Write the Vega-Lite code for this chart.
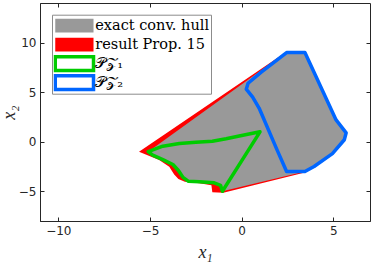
{
  "$schema": "https://vega.github.io/schema/vega-lite/v6.json",
  "width": 330,
  "height": 218,
  "autosize": {"type": "none"},
  "padding": {"left": 40, "top": 3, "right": 4, "bottom": 42},
  "background": "white",
  "config": {
    "view": {"stroke": "#262626", "strokeWidth": 1},
    "axis": {
      "grid": false,
      "domainColor": "#262626",
      "tickColor": "#262626",
      "tickSize": -4,
      "labelColor": "#262626",
      "labelFont": "DejaVu Sans",
      "labelFontSize": 12,
      "titleColor": "#262626",
      "titleFont": "Liberation Serif",
      "titleFontStyle": "italic",
      "titleFontWeight": "normal",
      "titleFontSize": 18
    }
  },
  "data": {
    "values": [
      {"series": "result Prop. 15", "i": 1, "x": -5.6, "y": -1.0},
      {"series": "result Prop. 15", "i": 2, "x": 2.5, "y": 9.15},
      {"series": "result Prop. 15", "i": 3, "x": 3.45, "y": 9.0},
      {"series": "result Prop. 15", "i": 4, "x": 5.15, "y": 2.2},
      {"series": "result Prop. 15", "i": 5, "x": 5.7, "y": 0.9},
      {"series": "result Prop. 15", "i": 6, "x": 5.6, "y": 0.2},
      {"series": "result Prop. 15", "i": 7, "x": 3.45, "y": -3.1},
      {"series": "result Prop. 15", "i": 8, "x": -1.0, "y": -5.15},
      {"series": "result Prop. 15", "i": 9, "x": -1.6, "y": -5.1},
      {"series": "result Prop. 15", "i": 10, "x": -1.65, "y": -4.4},
      {"series": "result Prop. 15", "i": 11, "x": -2.3, "y": -4.2},
      {"series": "result Prop. 15", "i": 12, "x": -3.1, "y": -4.05},
      {"series": "result Prop. 15", "i": 13, "x": -3.45, "y": -3.75},
      {"series": "result Prop. 15", "i": 14, "x": -3.68, "y": -3.3},
      {"series": "result Prop. 15", "i": 15, "x": -3.95, "y": -2.52},
      {"series": "result Prop. 15", "i": 16, "x": -4.5, "y": -1.85},

      {"series": "exact conv. hull", "i": 1, "x": -5.1, "y": -1.0},
      {"series": "exact conv. hull", "i": 2, "x": 2.45, "y": 9.05},
      {"series": "exact conv. hull", "i": 3, "x": 3.45, "y": 9.05},
      {"series": "exact conv. hull", "i": 4, "x": 5.15, "y": 2.2},
      {"series": "exact conv. hull", "i": 5, "x": 5.7, "y": 0.9},
      {"series": "exact conv. hull", "i": 6, "x": 5.6, "y": 0.2},
      {"series": "exact conv. hull", "i": 7, "x": 4.95, "y": -1.2},
      {"series": "exact conv. hull", "i": 8, "x": 3.95, "y": -2.5},
      {"series": "exact conv. hull", "i": 9, "x": 3.45, "y": -3.0},
      {"series": "exact conv. hull", "i": 10, "x": -1.05, "y": -5.0},
      {"series": "exact conv. hull", "i": 11, "x": -1.15, "y": -4.4},
      {"series": "exact conv. hull", "i": 12, "x": -1.5, "y": -4.15},
      {"series": "exact conv. hull", "i": 13, "x": -2.3, "y": -4.05},
      {"series": "exact conv. hull", "i": 14, "x": -2.9, "y": -4.0},
      {"series": "exact conv. hull", "i": 15, "x": -3.2, "y": -3.6},
      {"series": "exact conv. hull", "i": 16, "x": -3.45, "y": -2.9},
      {"series": "exact conv. hull", "i": 17, "x": -3.75, "y": -2.3},
      {"series": "exact conv. hull", "i": 18, "x": -4.3, "y": -1.8},
      {"series": "exact conv. hull", "i": 19, "x": -4.85, "y": -1.35},

      {"series": "𝒫𝒵₁", "i": 1, "x": -5.1, "y": -1.0},
      {"series": "𝒫𝒵₁", "i": 2, "x": -4.3, "y": -0.45},
      {"series": "𝒫𝒵₁", "i": 3, "x": -3.4, "y": -0.17},
      {"series": "𝒫𝒵₁", "i": 4, "x": -2.5, "y": -0.05},
      {"series": "𝒫𝒵₁", "i": 5, "x": -1.6, "y": 0.05},
      {"series": "𝒫𝒵₁", "i": 6, "x": -0.85, "y": 0.3},
      {"series": "𝒫𝒵₁", "i": 7, "x": -0.2, "y": 0.55},
      {"series": "𝒫𝒵₁", "i": 8, "x": 1.0, "y": 1.0},
      {"series": "𝒫𝒵₁", "i": 9, "x": -1.05, "y": -5.0},
      {"series": "𝒫𝒵₁", "i": 10, "x": -1.15, "y": -4.4},
      {"series": "𝒫𝒵₁", "i": 11, "x": -1.5, "y": -4.15},
      {"series": "𝒫𝒵₁", "i": 12, "x": -2.3, "y": -4.05},
      {"series": "𝒫𝒵₁", "i": 13, "x": -2.9, "y": -4.0},
      {"series": "𝒫𝒵₁", "i": 14, "x": -3.2, "y": -3.6},
      {"series": "𝒫𝒵₁", "i": 15, "x": -3.45, "y": -2.9},
      {"series": "𝒫𝒵₁", "i": 16, "x": -3.75, "y": -2.3},
      {"series": "𝒫𝒵₁", "i": 17, "x": -4.3, "y": -1.8},
      {"series": "𝒫𝒵₁", "i": 18, "x": -4.85, "y": -1.35},

      {"series": "𝒫𝒵₂", "i": 1, "x": 2.45, "y": 9.0},
      {"series": "𝒫𝒵₂", "i": 2, "x": 3.45, "y": 9.0},
      {"series": "𝒫𝒵₂", "i": 3, "x": 5.15, "y": 2.2},
      {"series": "𝒫𝒵₂", "i": 4, "x": 5.7, "y": 0.9},
      {"series": "𝒫𝒵₂", "i": 5, "x": 5.6, "y": 0.2},
      {"series": "𝒫𝒵₂", "i": 6, "x": 4.95, "y": -1.2},
      {"series": "𝒫𝒵₂", "i": 7, "x": 3.95, "y": -2.5},
      {"series": "𝒫𝒵₂", "i": 8, "x": 3.45, "y": -3.0},
      {"series": "𝒫𝒵₂", "i": 9, "x": 2.45, "y": -3.0},
      {"series": "𝒫𝒵₂", "i": 10, "x": 1.9, "y": -0.7},
      {"series": "𝒫𝒵₂", "i": 11, "x": 0.95, "y": 3.4},
      {"series": "𝒫𝒵₂", "i": 12, "x": 0.6, "y": 4.5},
      {"series": "𝒫𝒵₂", "i": 13, "x": 0.25, "y": 5.3},
      {"series": "𝒫𝒵₂", "i": 14, "x": 0.35, "y": 5.9},
      {"series": "𝒫𝒵₂", "i": 15, "x": 1.05, "y": 7.0}
    ]
  },
  "encoding": {
    "x": {"field": "x", "type": "quantitative", "scale": {"domain": [-11, 7], "nice": false, "zero": false}},
    "y": {"field": "y", "type": "quantitative", "scale": {"domain": [-8, 14], "nice": false, "zero": false}},
    "order": {"field": "i", "type": "quantitative"},
    "fill": {
      "field": "series", "type": "nominal",
      "scale": {
        "domain": ["exact conv. hull", "result Prop. 15", "𝒫𝒵₁", "𝒫𝒵₂"],
        "range": ["#999999", "#ff0000", "transparent", "transparent"]
      },
      "legend": {
        "orient": "none", "legendX": 12, "legendY": 11.7, "title": null,
        "symbolType": "M-1,-0.884L3.94,-0.884L3.94,0.884L-1,0.884Z", "symbolSize": 240, "symbolStrokeWidth": 3.5,
        "symbolOpacity": 1, "clipHeight": 19,
        "labelFont": "DejaVu Serif", "labelFontSize": 14.5, "labelColor": "black",
        "strokeColor": "#8c8c8c", "fillColor": "white", "padding": 1.5, "rowPadding": 0, "labelOffset": 22.75
      }
    },
    "stroke": {
      "field": "series", "type": "nominal",
      "scale": {
        "domain": ["exact conv. hull", "result Prop. 15", "𝒫𝒵₁", "𝒫𝒵₂"],
        "range": ["transparent", "transparent", "#00cc00", "#0066ff"]
      },
      "legend": {
        "orient": "none", "legendX": 12, "legendY": 11.7, "title": null,
        "symbolType": "M-1,-0.884L3.94,-0.884L3.94,0.884L-1,0.884Z", "symbolSize": 240, "symbolStrokeWidth": 3.5,
        "symbolOpacity": 1, "clipHeight": 19,
        "labelFont": "DejaVu Serif", "labelFontSize": 14.5, "labelColor": "black",
        "strokeColor": "#8c8c8c", "fillColor": "white", "padding": 1.5, "rowPadding": 0, "labelOffset": 22.75
      }
    }
  },
  "layer": [
    {
      "transform": [{"filter": "datum.series === 'result Prop. 15'"}],
      "mark": {"type": "line", "interpolate": "linear-closed", "strokeWidth": 3.5, "strokeJoin": "round"},
      "encoding": {
        "x": {"field": "x", "type": "quantitative", "axis": {"values": [-10, -5, 0, 5], "title": "x₁", "labelPadding": 8, "titlePadding": 7}},
        "y": {"field": "y", "type": "quantitative", "axis": {"values": [-5, 0, 5, 10], "title": "x₂", "labelPadding": 8, "titlePadding": 0}}
      }
    },
    {
      "transform": [{"filter": "datum.series === 'exact conv. hull'"}],
      "mark": {"type": "line", "interpolate": "linear-closed", "strokeWidth": 3.5, "strokeJoin": "round"},
      "encoding": {
        "x": {"field": "x", "type": "quantitative", "axis": null},
        "y": {"field": "y", "type": "quantitative", "axis": null}
      }
    },
    {
      "transform": [{"filter": "datum.series === '𝒫𝒵₁'"}],
      "mark": {"type": "line", "interpolate": "linear-closed", "strokeWidth": 3.5, "strokeJoin": "round"},
      "encoding": {
        "x": {"field": "x", "type": "quantitative", "axis": null},
        "y": {"field": "y", "type": "quantitative", "axis": null}
      }
    },
    {
      "transform": [{"filter": "datum.series === '𝒫𝒵₂'"}],
      "mark": {"type": "line", "interpolate": "linear-closed", "strokeWidth": 3.5, "strokeJoin": "round"},
      "encoding": {
        "x": {"field": "x", "type": "quantitative", "axis": {"orient": "top", "values": [-10, -5, 0, 5], "labels": false, "title": null, "domain": false}},
        "y": {"field": "y", "type": "quantitative", "axis": {"orient": "right", "values": [-5, 0, 5, 10], "labels": false, "title": null, "domain": false}}
      }
    }
  ],
  "resolve": {"axis": {"x": "independent", "y": "independent"}}
}
